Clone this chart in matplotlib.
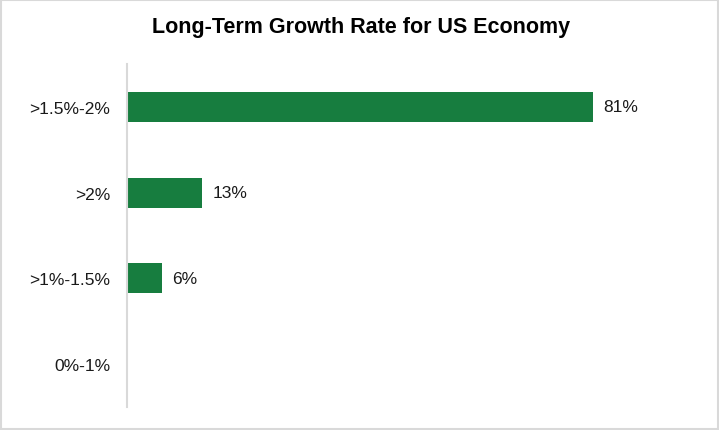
import matplotlib
matplotlib.use("Agg")
import matplotlib.pyplot as plt
from matplotlib.patches import Rectangle

categories = [">1.5%-2%", ">2%", ">1%-1.5%", "0%-1%"]
shares = [81, 13, 6, 0]
value_labels = ["81%", "13%", "6%", ""]

plt.rcParams["font.family"] = ["Liberation Sans", "DejaVu Sans"]

fig = plt.figure(figsize=(7.19, 4.31), dpi=100)
fig.patches.append(Rectangle((0.002, 0.002), 0.996, 0.996, transform=fig.transFigure,
                             fill=False, edgecolor="#d9d9d9", linewidth=1.5))

ax = fig.add_axes([127 / 719, 23 / 431, 575 / 719, 343 / 431])
ypos = list(range(len(categories)))
ax.barh(ypos, shares, height=0.35, color="#177d3f")
for y, v, lab in zip(ypos, shares, value_labels):
    if lab:
        ax.annotate(lab, (v, y), xytext=(7.5, 0), textcoords="offset points",
                    va="center", ha="left", fontsize=12.5, color="#1a1a1a")

ax.set_xlim(0, 100)
ax.set_ylim(len(categories) - 0.5, -0.5)
ax.set_yticks(ypos)
ax.set_yticklabels(categories, fontsize=12.5, color="#1a1a1a")
ax.tick_params(axis="y", length=0, pad=12)
ax.set_xticks([])
for side in ["top", "right", "bottom"]:
    ax.spines[side].set_visible(False)
ax.spines["left"].set_color("#d9d9d9")
ax.spines["left"].set_linewidth(1.5)

fig.text(361 / 719, 1 - 28 / 431, "Long-Term Growth Rate for US Economy",
         ha="center", va="center", fontsize=15.5, fontweight="bold", color="#000000")

fig.savefig("out.png", dpi=100)
